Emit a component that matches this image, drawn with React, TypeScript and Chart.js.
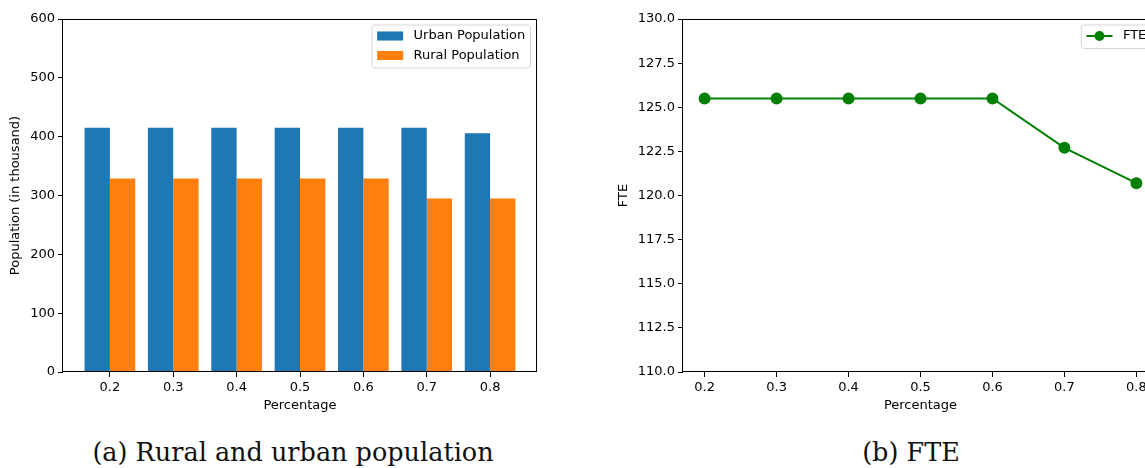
import React, { useEffect, useRef } from "react";
import { Chart, registerables } from "chart.js";

Chart.register(...registerables);

// ---------- data ----------
const percentageLabels = ["0.2", "0.3", "0.4", "0.5", "0.6", "0.7", "0.8"];
const percentages = [0.2, 0.3, 0.4, 0.5, 0.6, 0.7, 0.8];
const urbanPopulation = [415, 415, 415, 415, 415, 415, 406];
const ruralPopulation = [329, 329, 329, 329, 329, 295, 295];
const fteValues = [125.5, 125.5, 125.5, 125.5, 125.5, 122.7, 120.7];
const populationTicks = [0, 100, 200, 300, 400, 500, 600];
const fteTicks = [110, 112.5, 115, 117.5, 120, 122.5, 125, 127.5, 130];

const FONT_FAMILY = "'DejaVu Sans', sans-serif";
const FONT_SIZE = 13;

// frame (4 spines)
const framePlugin = {
  id: "mplFrame",
  afterDraw(chart: any) {
    const { ctx, chartArea: a } = chart;
    ctx.save();
    ctx.strokeStyle = "#000";
    ctx.lineWidth = 1;
    ctx.strokeRect(Math.round(a.left) - 0.5, Math.round(a.top) + 0.5, Math.round(a.right) - Math.round(a.left), Math.round(a.bottom) - Math.round(a.top) - 1);
    ctx.restore();
  },
};

// matplotlib-like legend in upper right
const legendPlugin = {
  id: "mplLegend",
  afterDraw(chart: any, _args: any, opts: any) {
    const { ctx, chartArea: a } = chart;
    const fs = FONT_SIZE;
    ctx.save();
    ctx.font = `${fs}px ${FONT_FAMILY}`;
    const items = chart.data.datasets.map((d: any) => ({
      label: d.label,
      color: d.backgroundColor,
      kind: opts.kind,
    }));
    const handleLen = 2 * fs;
    const pad = 0.4 * fs;
    const textPad = 0.8 * fs;
    const rowH = 19.5;
    const textW = Math.max(...items.map((i: any) => ctx.measureText(i.label).width));
    const w = pad * 2 + handleLen + textPad + textW;
    const h = 23.5 + rowH * (items.length - 1);
    const x = a.right - 0.5 * fs - w;
    const y = a.top + 6;
    ctx.beginPath();
    const r = 3;
    ctx.moveTo(x + r, y);
    ctx.lineTo(x + w - r, y);
    ctx.quadraticCurveTo(x + w, y, x + w, y + r);
    ctx.lineTo(x + w, y + h - r);
    ctx.quadraticCurveTo(x + w, y + h, x + w - r, y + h);
    ctx.lineTo(x + r, y + h);
    ctx.quadraticCurveTo(x, y + h, x, y + h - r);
    ctx.lineTo(x, y + r);
    ctx.quadraticCurveTo(x, y, x + r, y);
    ctx.closePath();
    ctx.fillStyle = "rgba(255,255,255,0.8)";
    ctx.fill();
    ctx.strokeStyle = "#d6d6d6";
    ctx.lineWidth = 1;
    ctx.stroke();
    items.forEach((it: any, i: number) => {
      const cy = y + 11 + rowH * i;
      const hx = x + pad;
      if (it.kind === "box") {
        ctx.fillStyle = it.color;
        ctx.fillRect(hx, cy - 0.35 * fs, handleLen, 0.7 * fs);
      } else {
        ctx.strokeStyle = it.color;
        ctx.lineWidth = 2;
        ctx.beginPath();
        ctx.moveTo(hx, cy);
        ctx.lineTo(hx + handleLen, cy);
        ctx.stroke();
        ctx.fillStyle = it.color;
        ctx.beginPath();
        ctx.arc(hx + handleLen / 2, cy, 5, 0, Math.PI * 2);
        ctx.fill();
      }
      ctx.fillStyle = "#000";
      ctx.textBaseline = "middle";
      ctx.textAlign = "left";
      ctx.fillText(it.label, hx + handleLen + textPad, cy);
    });
    ctx.restore();
  },
};

const tickFont = { family: FONT_FAMILY, size: FONT_SIZE };

function axisCommon() {
  return {
    border: { display: false },
    grid: {
      display: true,
      offset: false,
      drawOnChartArea: false,
      drawTicks: true,
      tickLength: 5,
      tickColor: "#000",
      lineWidth: 1,
    },
    ticks: { color: "#000", font: tickFont, padding: 3, maxRotation: 0, autoSkip: false },
  };
}

function BarChart() {
  const ref = useRef<HTMLCanvasElement | null>(null);
  useEffect(() => {
    if (!ref.current) return;
    const n = percentageLabels.length;
    const chart = new Chart(ref.current, {
      type: "bar",
      data: {
        datasets: [
          {
            label: "Urban Population",
            data: urbanPopulation.map((v, i) => ({ x: i, y: v })),
            backgroundColor: "#1f77b4",
            categoryPercentage: 0.8,
            barPercentage: 1.0,
          },
          {
            label: "Rural Population",
            data: ruralPopulation.map((v, i) => ({ x: i, y: v })),
            backgroundColor: "#ff7f0e",
            categoryPercentage: 0.8,
            barPercentage: 1.0,
          },
        ],
      },
      options: {
        animation: false,
        responsive: false,
        events: [],
        layout: { padding: { top: 18, right: 23, left: 0, bottom: 0 } },
        plugins: {
          legend: { display: false },
          tooltip: { enabled: false },
          mplLegend: { kind: "box" },
        } as any,
        scales: {
          x: {
            type: "linear",
            offset: false,
            min: -0.4 - 0.05 * (n - 1 + 0.8),
            max: n - 1 + 0.4 + 0.05 * (n - 1 + 0.8),
            ...axisCommon(),
            ticks: {
              ...axisCommon().ticks,
              callback: (v: any) => percentageLabels[v] ?? "",
            },
            afterBuildTicks: (scale: any) => {
              scale.ticks = percentageLabels.map((_, i) => ({ value: i }));
            },
            afterFit: (scale: any) => {
              scale.height = 49;
            },
            title: {
              display: true,
              text: "Percentage",
              color: "#000",
              font: tickFont,
              padding: { top: 0, bottom: 8 },
            },
          } as any,
          y: {
            type: "linear",
            min: 0,
            max: 600,
            ...axisCommon(),
            afterBuildTicks: (scale: any) => {
              scale.ticks = populationTicks.map((v) => ({ value: v }));
            },
            afterFit: (scale: any) => {
              scale.width = 63;
            },
            title: {
              display: true,
              text: "Population (in thousand)",
              color: "#000",
              font: tickFont,
              padding: { top: 8, bottom: 0 },
            },
          } as any,
        },
      },
      plugins: [framePlugin, legendPlugin],
    });
    return () => chart.destroy();
  }, []);
  return (
    <canvas
      ref={ref}
      width={560}
      height={420}
      style={{ position: "absolute", left: 0, top: 1, width: 560, height: 420 }}
    />
  );
}

function LineChart() {
  const ref = useRef<HTMLCanvasElement | null>(null);
  useEffect(() => {
    if (!ref.current) return;
    const chart = new Chart(ref.current, {
      type: "line",
      data: {
        datasets: [
          {
            label: "FTE",
            data: fteValues.map((v, i) => ({ x: percentages[i], y: v })),
            borderColor: "#008000",
            backgroundColor: "#008000",
            pointBackgroundColor: "#008000",
            pointBorderColor: "#008000",
            pointRadius: 5,
            borderWidth: 2,
            tension: 0,
            fill: false,
          },
        ],
      },
      options: {
        animation: false,
        responsive: false,
        events: [],
        layout: { padding: { top: 18, right: 42, left: 0, bottom: 0 } },
        plugins: {
          legend: { display: false },
          tooltip: { enabled: false },
          mplLegend: { kind: "line" },
        } as any,
        scales: {
          x: {
            type: "linear",
            min: 0.17,
            max: 0.83,
            ...axisCommon(),
            ticks: {
              ...axisCommon().ticks,
              callback: (v: any) => {
                const i = percentages.findIndex((p) => Math.abs(p - v) < 1e-6);
                return i >= 0 ? percentageLabels[i] : "";
              },
            },
            afterBuildTicks: (scale: any) => {
              scale.ticks = percentages.map((v) => ({ value: v }));
            },
            afterFit: (scale: any) => {
              scale.height = 49;
            },
            title: {
              display: true,
              text: "Percentage",
              color: "#000",
              font: tickFont,
              padding: { top: 0, bottom: 8 },
            },
          } as any,
          y: {
            type: "linear",
            min: 110,
            max: 130,
            ...axisCommon(),
            ticks: {
              ...axisCommon().ticks,
              callback: (v: any) => Number(v).toFixed(1),
            },
            afterBuildTicks: (scale: any) => {
              scale.ticks = fteTicks.map((v) => ({ value: v }));
            },
            afterFit: (scale: any) => {
              scale.width = 83;
            },
            title: {
              display: true,
              text: "FTE",
              color: "#000",
              font: tickFont,
              padding: { top: 16, bottom: 0 },
            },
          } as any,
        },
      },
      plugins: [framePlugin, legendPlugin],
    });
    return () => chart.destroy();
  }, []);
  return (
    <canvas
      ref={ref}
      width={600}
      height={420}
      style={{ position: "absolute", left: 600, top: 1, width: 600, height: 420 }}
    />
  );
}

const captionStyle: React.CSSProperties = {
  position: "absolute",
  top: 437,
  fontFamily: "'DejaVu Serif', serif",
  fontSize: 25.5,
  lineHeight: "30px",
  color: "#111",
  whiteSpace: "nowrap",
  transform: "translateX(-50%)",
};

export default function App() {
  return (
    <div
      style={{
        position: "fixed",
        left: 0,
        top: 0,
        width: 1145,
        height: 468,
        overflow: "hidden",
        background: "#fff",
      }}
    >
      <BarChart />
      <LineChart />
      <div style={{ ...captionStyle, left: 293 }}>(a) Rural and urban population</div>
      <div style={{ ...captionStyle, left: 911 }}>(b) FTE</div>
    </div>
  );
}
